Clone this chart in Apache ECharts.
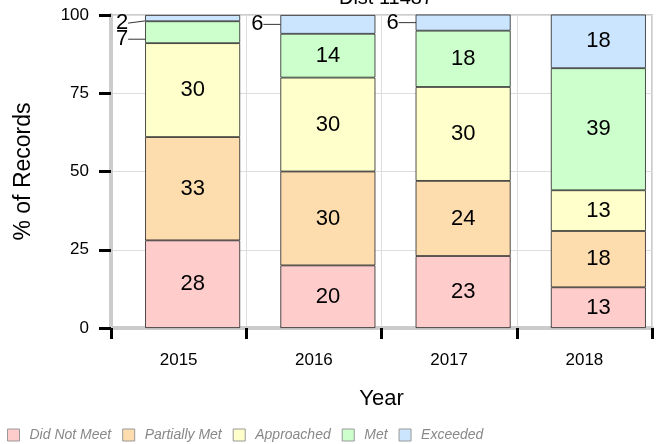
<!DOCTYPE html>
<html>
<head>
<meta charset="utf-8">
<script src="https://cdn.jsdelivr.net/npm/echarts@6/dist/echarts.min.js"></script>
<style>
  html, body { margin: 0; padding: 0; background: #fff; }
  #chart { width: 662px; height: 444px; }
</style>
</head>
<body>
<div id="chart"></div>
<script>
const years = ['2015', '2016', '2017', '2018']
const levels = ['Did Not Meet', 'Partially Met', 'Approached', 'Met', 'Exceeded']
const didNotMeet = [28, 20, 23, 13]
const partiallyMet = [33, 30, 24, 18]
const approached = [30, 30, 30, 13]
const met = [7, 14, 18, 39]
const exceeded = [2, 6, 6, 18]
const yTicks = [0, 25, 50, 75, 100]

const allData = [didNotMeet, partiallyMet, approached, met, exceeded]
const colors = ['#ffcccc', '#fddcae', '#ffffcc', '#ccffcc', '#cce5ff']
const FONT = 'Arial, Liberation Sans, sans-serif'
const SMALL = 8

const chart = echarts.init(document.getElementById('chart'))

// 小数值的标签放到柱子左边, 用引线连上
const makeSeries = (idx) => {
  const data = allData[idx]
  return {
    name: levels[idx],
    type: 'bar',
    stack: 'all',
    data,
    barWidth: 95,
    barGap: '0%',
    itemStyle: { color: colors[idx], borderColor: '#222', borderWidth: 0.8 },
    label: {
      show: true,
      position: 'inside',
      color: '#000',
      fontSize: 22,
      fontFamily: FONT,
    },
    labelLine: { show: true, lineStyle: { color: '#000', width: 0.8 } },
    labelLayout: (p) => {
      const i = p.dataIndex
      if (data[i] >= SMALL) return {}
      const above = allData[idx + 1] && allData[idx + 1][i] < SMALL
      const below = allData[idx - 1] && allData[idx - 1][i] < SMALL
      let dy = 0
      if (above) dy += 7
      if (below) dy += 5
      return {
        x: p.rect.x - 17,
        y: p.rect.y + p.rect.height / 2 + dy,
        align: 'right',
        verticalAlign: 'middle',
      }
    },
  }
}

const series = [
  // 空的占位柱, 让真正的柱子向右偏一点
  {
    name: 'pad',
    type: 'bar',
    stack: 'pad',
    data: years.map(() => null),
    barWidth: 28,
    barGap: '0%',
    silent: true,
  },
]
for (let i = 0; i < levels.length; i++) series.push(makeSeries(i))

const option = {
  animation: false,
  title: {
    text: 'Dist 11487',
    left: 381,
    textAlign: 'center',
    top: -17,
    textStyle: { fontSize: 20, fontWeight: 'normal', color: '#000', fontFamily: FONT },
  },
  grid: {
    left: 111,
    right: 10,
    top: 15,
    bottom: 116,
    show: true,
    borderColor: '#ccc',
    borderWidth: 2,
  },
  legend: {
    data: levels,
    left: 7,
    top: 428,
    padding: 0,
    itemWidth: 12,
    itemHeight: 12,
    itemGap: 11,
    icon: 'rect',
    itemStyle: { borderColor: '#999', borderWidth: 1 },
    textStyle: { fontStyle: 'italic', color: '#888', fontSize: 14, fontFamily: FONT, padding: [0, 0, 0, 5] },
  },
  xAxis: {
    type: 'category',
    data: years,
    name: 'Year',
    nameLocation: 'middle',
    nameGap: 60,
    nameTextStyle: { fontSize: 22, color: '#000', fontFamily: FONT },
    axisLine: { lineStyle: { color: '#ccc', width: 4 } },
    axisTick: { show: true, length: 11, lineStyle: { color: '#000', width: 3 } },
    axisLabel: { color: '#000', fontSize: 17, margin: 24, fontFamily: FONT },
    splitLine: { show: true, lineStyle: { color: '#ddd' } },
  },
  yAxis: {
    type: 'value',
    min: yTicks[0],
    max: yTicks[yTicks.length - 1],
    interval: 25,
    name: '% of Records',
    nameLocation: 'middle',
    nameGap: 76,
    nameTextStyle: { fontSize: 23, color: '#000', fontFamily: FONT },
    axisLine: { show: true, lineStyle: { color: '#ccc', width: 4 } },
    axisTick: { show: true, length: 12, lineStyle: { color: '#000', width: 3 } },
    axisLabel: { color: '#000', fontSize: 17, margin: 22, fontFamily: FONT },
    splitLine: { show: true, lineStyle: { color: '#ddd' } },
  },
  series,
}

chart.setOption(option)
</script>
</body>
</html>
